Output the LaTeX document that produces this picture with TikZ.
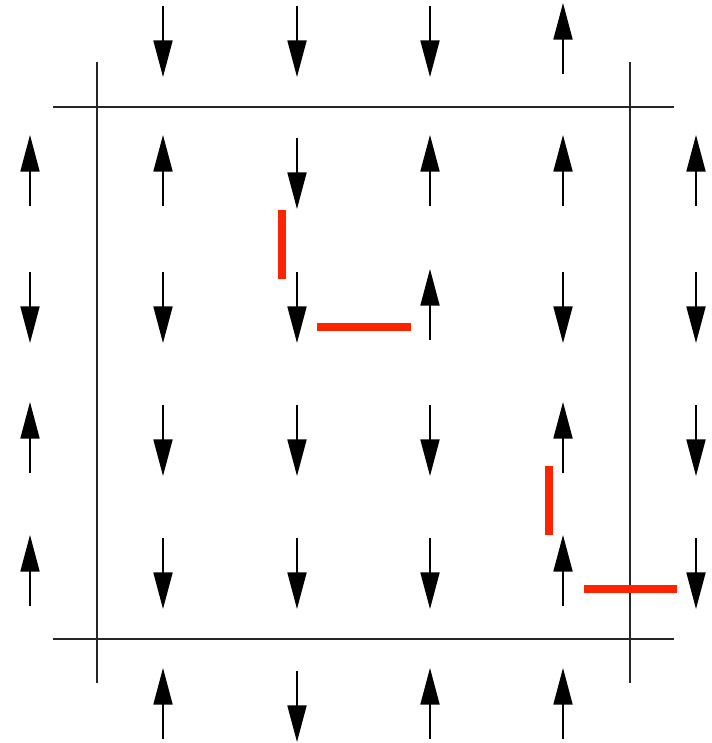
\documentclass[tikz,border=0pt]{standalone}
\usetikzlibrary{arrows.meta}
\definecolor{bondred}{RGB}{255,36,0}
\begin{document}
\begin{tikzpicture}[x=0.025cm, y=-0.025cm]
\tikzstyle{spin}=[line width=1.3pt, -{Triangle[length=26pt,width=13.5pt]}];
\tikzstyle{frame}=[line width=1.3pt, black!85];
\tikzstyle{bond}=[line width=5.7pt, bondred];
\useasboundingbox (0,0) rectangle (711,743);
% frame of the lattice
\draw[frame] (53,107) -- (674,107)
(53,639) -- (674,639)
(97,62) -- (97,683)
(630,62) -- (630,683);
% spins pointing up
\foreach \x/\y in {563/40, 30/172, 163/172, 430/172, 563/172, 696/172, 430/306, 30/439, 563/439, 30/572, 563/572, 163/705, 430/705, 563/705}
  \draw[spin] (\x,\y+34) -- (\x,\y-37);
% spins pointing down
\foreach \x/\y in {163/40, 297/40, 430/40, 297/172, 30/306, 163/306, 297/306, 563/306, 696/306, 163/439, 297/439, 430/439, 696/439, 163/572, 297/572, 430/572, 696/572, 297/705}
  \draw[spin] (\x,\y-34) -- (\x,\y+37);
% broken bonds
\draw[bond] (282,210) -- (282,279)
(317,327) -- (411,327)
(549,466) -- (549,535)
(584,589) -- (677,589);
\end{tikzpicture}
\end{document}
